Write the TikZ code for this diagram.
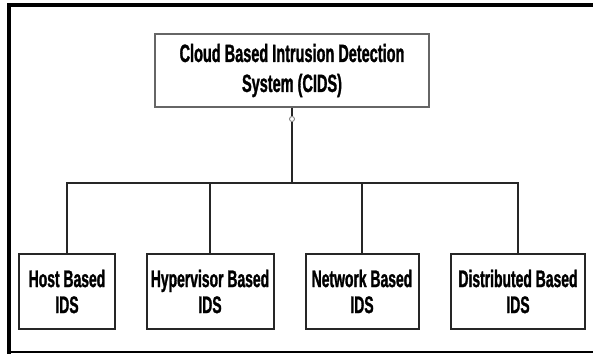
\documentclass[tikz,border=0pt]{standalone}
\usepackage{fontspec}
\newfontfamily\lblfont[FakeStretch=0.58,FakeBold=1.2]{Liberation Sans}
\begin{document}
\begin{tikzpicture}[x=1pt,y=-1pt,
  lbl/.style={font=\lblfont\bfseries\fontsize{24}{26}\selectfont, text=black, align=center, inner sep=0pt},
  rootbox/.style={lbl, font=\lblfont\bfseries\fontsize{25}{30}\selectfont, draw=black!60, line width=1.5pt, minimum width=274pt, minimum height=73pt},
  leaf/.style={lbl, draw=black!85, line width=2pt, minimum height=75pt},
  wire/.style={draw=black!85, line width=1.8pt},
  knotstyle/.style={circle, draw=black!55, line width=0.8pt, fill=white, minimum size=5pt, inner sep=0pt}]
\useasboundingbox (0,0) rectangle (593,354);
% outer frame: heavy top and left edges, thin bottom edge
\draw[line width=4pt] (593,5.3) -- (9,5.3) -- (9,354);
\draw[line width=2pt] (9,352.3) -- (593,352.3);

% root of the hierarchy
\node[rootbox] (root) at (292,70.5) {Cloud Based Intrusion Detection\\System (CIDS)};

% the four kinds of IDS
\node[leaf, minimum width=96pt]  (host)  at (67,291.5)  {Host Based\\IDS};
\node[leaf, minimum width=127pt] (hyper) at (210,291.5) {Hypervisor Based\\IDS};
\node[leaf, minimum width=113pt] (net)   at (362,291.5) {Network Based\\IDS};
\node[leaf, minimum width=134pt] (dist)  at (518,291.5) {Distributed Based\\IDS};

% connectors
\coordinate (hub) at (292,183);
\node[knotstyle] (knot) at (292,119) {};
\draw[wire] (root.south) -- (knot);
\draw[wire] (knot) -- (hub);
\draw[wire] (host.north) -- (host.north |- hub) -- (dist.north |- hub) -- (dist.north);
\draw[wire] (hyper.north) -- (hyper.north |- hub);
\draw[wire] (net.north) -- (net.north |- hub);
\end{tikzpicture}
\end{document}
